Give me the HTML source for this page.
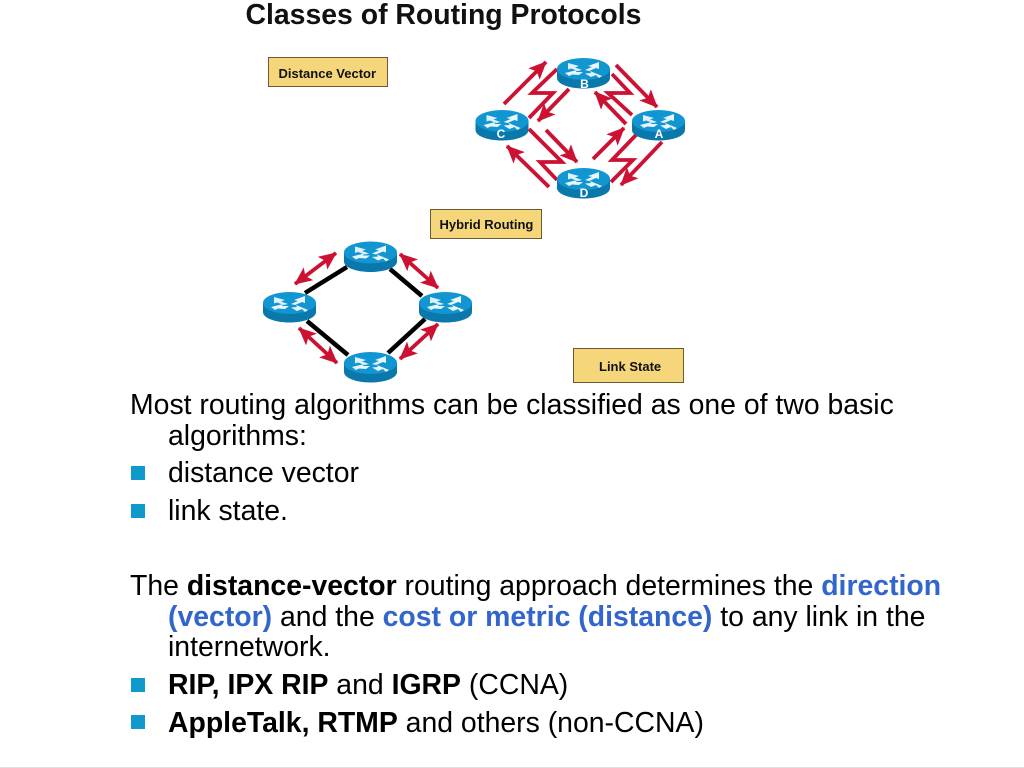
<!DOCTYPE html>
<html><head><meta charset="utf-8">
<style>
html,body{margin:0;padding:0;background:#fff}
svg{display:block}
text{font-family:"Liberation Sans",Arial,sans-serif}
.t{font-size:28.4px;fill:#000}
.b{font-weight:bold}
.c{font-weight:bold;fill:#3366cc}
.l{font-size:13px;font-weight:bold;fill:#111}
.r{font-size:12px;font-weight:bold;fill:#fff;text-anchor:middle}
</style></head>
<body>
<svg width="1024" height="768" viewBox="0 0 1024 768" xmlns="http://www.w3.org/2000/svg">
<defs>
<marker id="ah" markerUnits="userSpaceOnUse" markerWidth="18" markerHeight="16" refX="17" refY="8" orient="auto-start-reverse"><path d="M0 0L18 8L0 16L4 8Z" fill="#cc1133"/></marker>
<g id="rt">
<path d="M0 11V20C0 26 12 30.500 26.500 30.500S53 26 53 20V11Z" fill="#0b78ab"/>
<ellipse cx="26.500" cy="11" rx="26.500" ry="11" fill="#1296d2"/>
<g fill="#e8f6fc">
<path d="M11 5L22 8L18 9.500L25 12L21 13L14 10.500L11 11.500Z" opacity=".95"/>
<path d="M42 4L31 8L35 9L28 12L32 13L39 10L42 11Z"/>
<path d="M8 15L20 12L19 14L26 14L22 17L15 16.500L12 18Z"/>
<path d="M45 18L33 13L34 15L28 15.500L34 19L39 17L42 20Z"/>
</g>
</g>
</defs>
<rect width="1024" height="768" fill="#fff"/>
<rect y="767" width="1024" height="1" fill="#e2e2e2"/>

<text x="245.500" y="24" font-size="28.400" font-weight="bold" fill="#111">Classes of Routing Protocols</text>

<g stroke="#6b5a30" stroke-width="1" fill="#f6d67a">
<rect x="268.500" y="57.500" width="119" height="29"/>
<rect x="430.500" y="209.500" width="111" height="29"/>
<rect x="573.500" y="348.500" width="110" height="34"/>
</g>
<text class="l" x="278.500" y="78">Distance Vector</text>
<text class="l" x="439.500" y="229">Hybrid Routing</text>
<text class="l" x="599" y="371">Link State</text>

<g fill="none" stroke="#cc1133" stroke-width="3.800">
<path d="M504 104L546 62" marker-end="url(#ah)"/>
<path d="M569 89L538 121" marker-end="url(#ah)"/>
<path d="M616 65L657 107" marker-end="url(#ah)"/>
<path d="M626 124L595 92" marker-end="url(#ah)"/>
<path d="M546 130L577 162" marker-end="url(#ah)"/>
<path d="M549 187L507 146" marker-end="url(#ah)"/>
<path d="M593 159L624 128" marker-end="url(#ah)"/>
<path d="M662 142L621 185" marker-end="url(#ah)"/>
<path d="M529 118L553 93H532L557 69"/>
<path d="M612 74L630 93H608L632 115"/>
<path d="M529 129L562 162H540L557 180"/>
<path d="M636 135L612 160H633L611 182"/>
</g>
<use href="#rt" x="557" y="58"/>
<use href="#rt" x="475.500" y="110"/>
<use href="#rt" x="632" y="110"/>
<use href="#rt" x="557" y="168"/>
<text class="r" x="584.500" y="88">B</text>
<text class="r" x="501" y="138">C</text>
<text class="r" x="659" y="138">A</text>
<text class="r" x="584" y="197">D</text>

<g stroke="#000" stroke-width="4.500" fill="none">
<path d="M305 293L347 267"/>
<path d="M390 269L422 296"/>
<path d="M307 321L348 355"/>
<path d="M425 319L388 353"/>
</g>
<g fill="none" stroke="#cc1133" stroke-width="3.800">
<path d="M295 284L336 253" marker-start="url(#ah)" marker-end="url(#ah)"/>
<path d="M400 254L438 288" marker-start="url(#ah)" marker-end="url(#ah)"/>
<path d="M299 328L337 363" marker-start="url(#ah)" marker-end="url(#ah)"/>
<path d="M438 324L400 359" marker-start="url(#ah)" marker-end="url(#ah)"/>
</g>
<use href="#rt" x="344" y="241.500"/>
<use href="#rt" x="263" y="292"/>
<use href="#rt" x="419" y="292"/>
<use href="#rt" x="344" y="352"/>

<g fill="#0f99cc">
<rect x="131" y="466" width="14" height="14"/>
<rect x="131" y="504" width="14" height="14"/>
<rect x="131" y="678" width="14" height="14"/>
<rect x="131" y="715" width="14" height="14"/>
</g>

<text class="t" x="130" y="414">Most routing algorithms can be classified as one of two basic</text>
<text class="t" x="168" y="445">algorithms:</text>
<text class="t" x="168" y="482">distance vector</text>
<text class="t" x="168" y="520">link state.</text>
<text class="t" x="130" y="595">The <tspan class="b">distance-vector</tspan> routing approach determines the <tspan class="c">direction</tspan></text>
<text class="t" x="168" y="626"><tspan class="c">(vector)</tspan> and the <tspan class="c">cost or metric (distance)</tspan> to any link in the</text>
<text class="t" x="168" y="656">internetwork.</text>
<text class="t" x="168" y="694"><tspan class="b">RIP, IPX RIP</tspan> and <tspan class="b">IGRP</tspan> (CCNA)</text>
<text class="t" x="168" y="732"><tspan class="b">AppleTalk, RTMP</tspan> and others (non-CCNA)</text>
</svg>
</body></html>
